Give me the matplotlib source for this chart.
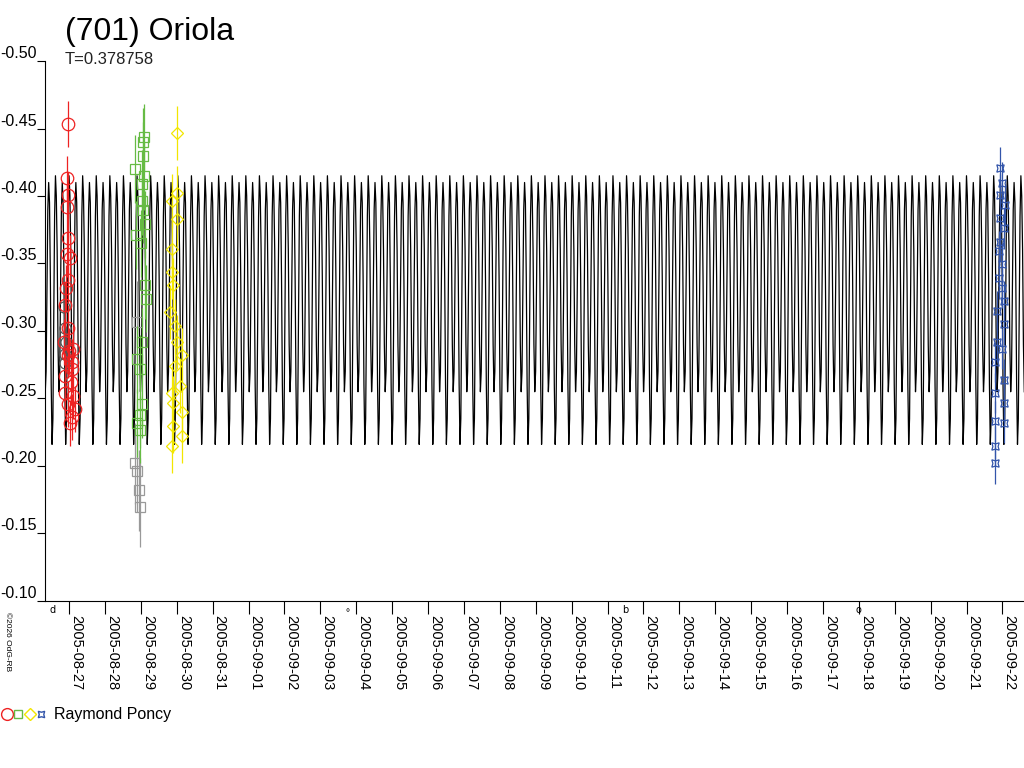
import numpy as np
import matplotlib
matplotlib.use("Agg")
import matplotlib.pyplot as plt
import matplotlib.dates as mdates
from matplotlib.legend_handler import HandlerTuple
from matplotlib.ticker import FormatStrFormatter
from datetime import datetime

plt.rcParams['font.family'] = ['Liberation Sans', 'DejaVu Sans']

# Datos (dias desde 2005-08-27 00:00, magnitud relativa)
periodo = 0.378758
fecha_base = datetime(2005, 8, 27)

# forma de una rotacion del modelo (fase 0..1)
modelo_fase = [0.0, 0.0625, 0.125, 0.1875, 0.25, 0.3125, 0.375, 0.4375,
               0.5, 0.5625, 0.625, 0.6875, 0.75, 0.8125, 0.875, 0.9375]
modelo_mag = [-0.415, -0.400, -0.360, -0.290, -0.255, -0.270, -0.330, -0.390,
              -0.410, -0.395, -0.340, -0.260, -0.216, -0.235, -0.310, -0.385]

rojo_t = [-0.02, -0.05, -0.02, -0.05, -0.02, -0.05, 0.03, -0.02, -0.08, -0.11,
          -0.02, -0.14, 0.10, -0.02, 0.07, -0.11, -0.11, 0.11, -0.02, 0.17,
          0.03, 0.07, 0.05, 0.09, 0.01]
rojo_mag = [-0.4535, -0.413, -0.401, -0.392, -0.369, -0.357, -0.354, -0.338, -0.332, -0.319,
            -0.302, -0.292, -0.287, -0.282, -0.272, -0.267, -0.254, -0.252, -0.246, -0.242,
            -0.232, -0.236, -0.262, -0.277, -0.285]

negro_t = [-0.14, -0.11, -0.08, -0.12, -0.10]
negro_mag = [-0.318, -0.302, -0.292, -0.283, -0.276]

verde_t = [2.09, 2.07, 2.07, 1.84, 2.09, 2.03, 2.02, 2.05, 2.12, 1.87,
           2.01, 2.12, 2.14, 2.02, 1.98, 2.02, 1.98, 1.90, 1.98, 1.88]
verde_mag = [-0.4435, -0.440, -0.430, -0.420, -0.415, -0.409, -0.396, -0.390, -0.379, -0.371,
             -0.365, -0.334, -0.324, -0.292, -0.272, -0.246, -0.238, -0.232, -0.227, -0.279]

gris_t = [1.89, 1.84, 1.90, 1.96, 1.98]
gris_mag = [-0.307, -0.202, -0.196, -0.182, -0.170]

amarillo_t = [3.00, 3.00, 2.86, 3.00, 2.86, 2.86, 2.89, 2.81, 2.95, 3.00,
              3.14, 2.95, 3.09, 2.86, 2.90, 3.14, 2.90, 3.14, 2.86]
amarillo_mag = [-0.4465, -0.4025, -0.396, -0.383, -0.361, -0.344, -0.334, -0.314, -0.304, -0.292,
                -0.282, -0.274, -0.259, -0.254, -0.247, -0.240, -0.230, -0.222, -0.215]

azul_t = [25.93, 25.98, 25.93, 26.08, 25.93, 26.03, 25.93, 25.89, 25.98, 25.89,
          25.98, 26.03, 25.84, 26.03, 25.84, 25.98, 25.80, 26.03, 25.80, 26.03,
          25.80, 26.03, 25.80, 25.80]
azul_mag = [-0.421, -0.410, -0.401, -0.393, -0.384, -0.376, -0.366, -0.359, -0.350, -0.339,
            -0.332, -0.322, -0.315, -0.305, -0.292, -0.287, -0.277, -0.264, -0.254, -0.247,
            -0.233, -0.232, -0.215, -0.202]

fechas = ["2005-08-27", "2005-08-28", "2005-08-29", "2005-08-30", "2005-08-31",
          "2005-09-01", "2005-09-02", "2005-09-03", "2005-09-04", "2005-09-05",
          "2005-09-06", "2005-09-07", "2005-09-08", "2005-09-09", "2005-09-10",
          "2005-09-11", "2005-09-12", "2005-09-13", "2005-09-14", "2005-09-15",
          "2005-09-16", "2005-09-17", "2005-09-18", "2005-09-19", "2005-09-20",
          "2005-09-21", "2005-09-22"]

# fases lunares (dias desde base, simbolo)
luna_t = [-0.45, 7.77, 15.5, 22.0]
luna_sim = ["d", "\u2218", "b", "o"]

x0 = mdates.date2num(fecha_base)
def a_fecha(t):
    return x0 + np.asarray(t, dtype=float)

# curva del modelo repetida cada periodo
t_ini, t_fin = -0.67, 26.6
ciclos = np.arange(np.floor(t_ini / periodo) - 1, np.ceil(t_fin / periodo) + 1)
modelo_t = (ciclos[:, None] + np.asarray(modelo_fase)[None, :]).ravel() * periodo
modelo_y = np.tile(modelo_mag, len(ciclos))

fig = plt.figure(figsize=(10.24, 7.68), dpi=100)
ax = fig.add_axes([45/1024, 1 - 601/768, 979/1024, 540/768])

ax.plot(a_fecha(modelo_t), modelo_y, color='black', lw=0.9)

def serie(t, m, err, color, marker, ms):
    ax.errorbar(a_fecha(t), m, yerr=err, fmt='none', ecolor=color,
                elinewidth=0.9, capsize=0)
    ax.plot(a_fecha(t), m, ls='none', marker=marker, ms=ms, mfc='none',
            mec=color, mew=0.9)

serie(negro_t, negro_mag, 0.012, '#555555', 'o', 8)
serie(rojo_t, rojo_mag, 0.017, '#ee2222', 'o', 9)
serie(gris_t, gris_mag, 0.03, '#999999', 's', 6.5)
serie(verde_t, verde_mag, 0.025, '#66bb44', 's', 6.5)
serie(amarillo_t, amarillo_mag, 0.02, '#f2e600', 'D', 6.5)
serie(azul_t, azul_mag, 0.015, '#3355aa', (4, 1, 45), 7.5)

ax.set_xlim(a_fecha(t_ini), a_fecha(t_fin))
ax.set_ylim(-0.10, -0.50)
ax.set_yticks(np.arange(-0.50, -0.09, 0.05))
ax.yaxis.set_major_formatter(FormatStrFormatter('%.2f'))
ax.set_xticks([mdates.date2num(datetime.strptime(f, "%Y-%m-%d")) for f in fechas])
ax.set_xticklabels(fechas, rotation=-90)

ax.spines['top'].set_visible(False)
ax.spines['right'].set_visible(False)
ax.tick_params(axis='y', length=6, width=0.8, pad=0, labelsize=11.5)
ax.tick_params(axis='x', length=9, width=0.8, pad=1, labelsize=10.5)
for lab in ax.get_yticklabels():
    lab.set_va('bottom')
for lab in ax.get_xticklabels():
    lab.set_ha('left')

for t, s in zip(luna_t, luna_sim):
    ax.annotate(s, (a_fecha(t), -0.10), xytext=(0, -3), textcoords='offset points',
                ha='center', va='top', fontsize=7, annotation_clip=False,
                family=['DejaVu Sans'])

fig.text(65/1024, 1 - 40/768, "(701) Oriola", fontsize=23, va='baseline')
fig.text(65/1024, 1 - 64/768, "T=0.378758", fontsize=12, va='baseline', color='#222222')
fig.text(4/1024, 1 - 612/768, "\u00a92026 OdG-RB", fontsize=6, rotation=-90,
         ha='left', va='top')

h1, = ax.plot([], [], 'o', mfc='none', mec='#ee2222', ms=8.5)
h2, = ax.plot([], [], 's', mfc='none', mec='#66bb44', ms=6)
h3, = ax.plot([], [], 'D', mfc='none', mec='#f2e600', ms=6)
h4, = ax.plot([], [], marker=(4, 1, 45), ls='none', mfc='none', mec='#3355aa', ms=6.5)
fig.legend(handles=[(h1, h2, h3, h4)], labels=["Raymond Poncy"],
           handler_map={tuple: HandlerTuple(ndivide=None, pad=0.05)},
           loc='lower left', bbox_to_anchor=(0.0, 1 - 724/768), frameon=False,
           fontsize=11.5, handlelength=2.8, handletextpad=0.5, borderaxespad=0,
           borderpad=0.1)

fig.savefig("out.png", dpi=100)
